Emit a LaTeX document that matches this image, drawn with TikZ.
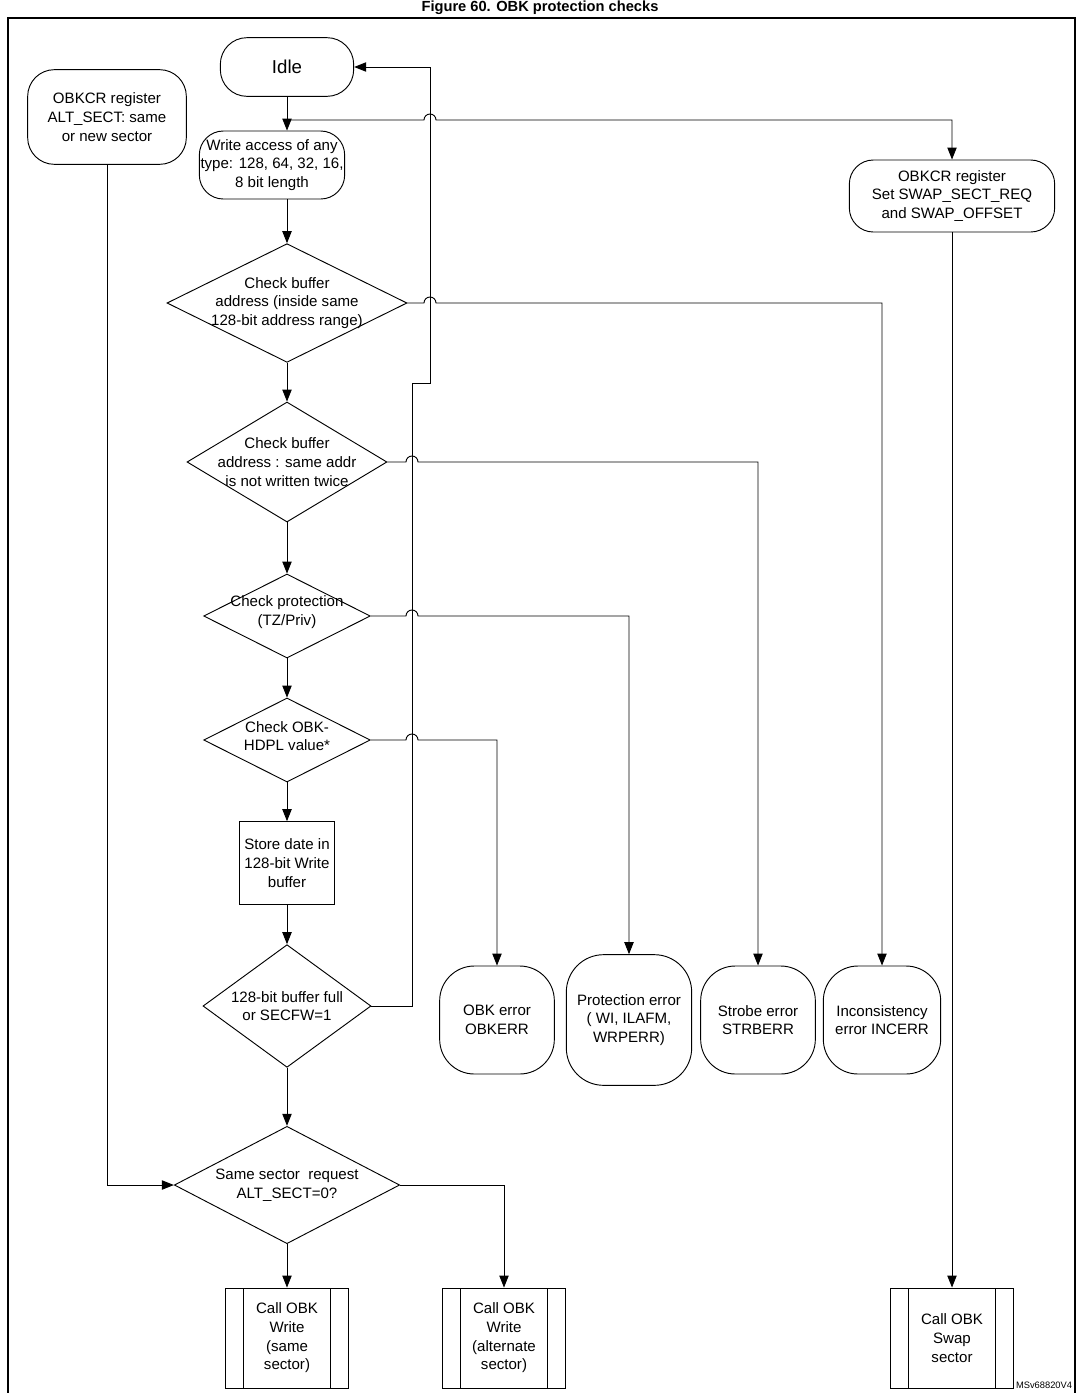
\documentclass[tikz,border=0pt]{standalone}
\usepackage{fontspec}
\setmainfont{Liberation Sans}
\usetikzlibrary{shapes.geometric,arrows.meta,calc}
\begin{document}
\begin{tikzpicture}[x=0.75pt,y=-0.75pt,
  font=\fontsize{11.3}{14}\selectfont,
  line width=0.7pt,
  arr/.style={-{Triangle[length=9pt,width=7pt]}},
  term/.style={draw,rounded corners=20pt,align=center,inner sep=1pt},
  dia/.style={draw,diamond,inner sep=0pt},
  box/.style={draw,align=center},
  sub/.style={draw,align=center,minimum width=92pt,minimum height=75pt,
     path picture={\draw ([xshift=13.5pt]path picture bounding box.north west) -- ([xshift=13.5pt]path picture bounding box.south west);
                   \draw ([xshift=-13.5pt]path picture bounding box.north east) -- ([xshift=-13.5pt]path picture bounding box.south east);}},
  lab/.style={align=center,font=\fontsize{11.3}{14}\selectfont}
]
\useasboundingbox (0,0) rectangle (1077,1393);
\node[font=\bfseries\fontsize{11}{13}\selectfont] (title) at (540,8) {Figure 60. OBK protection checks};
\draw[line width=1.2pt] (8,1400) -- (8,18) -- (1075,18) -- (1075,1400);

\node[term,minimum width=100pt,minimum height=44pt,font=\fontsize{14}{16}\selectfont] (idle) at (287,67) {Idle};
\node[term,minimum width=109pt,minimum height=51pt,rounded corners=18pt,inner sep=0pt] (wa) at (272,165) {Write access of any\\type: 128, 64, 32, 16,\\8 bit length};
\node[term,minimum width=119pt,minimum height=71pt] (ob1) at (107,117) {OBKCR register\\ALT\_SECT: same\\or new sector};
\node[term,minimum width=154pt,minimum height=54pt,rounded corners=18pt] (ob2) at (952,196) {OBKCR register\\Set SWAP\_SECT\_REQ\\and SWAP\_OFFSET};

\node[dia,minimum width=180pt,minimum height=89pt,label={[lab]center:Check buffer\\address (inside same\\128-bit address range)}] (d1) at (287,303) {};
\node[dia,minimum width=150pt,minimum height=90pt,label={[lab]center:Check buffer\\address : same addr\\is not written twice}] (d2) at (287,462) {};
\node[dia,minimum width=125pt,minimum height=63pt,label={[lab,yshift=3pt]center:Check protection\\(TZ/Priv)}] (d3) at (287,616) {};
\node[dia,minimum width=125pt,minimum height=63pt,label={[lab,yshift=3pt]center:Check OBK-\\HDPL value*}] (d4) at (287,740) {};
\node[box,minimum width=68pt,minimum height=62pt] (st) at (287,863) {Store date in\\128-bit Write\\buffer};
\node[dia,minimum width=126pt,minimum height=92pt,label={[lab]center:128-bit buffer full\\or SECFW=1}] (d5) at (287,1006) {};
\node[dia,minimum width=169pt,minimum height=88pt,label={[lab]center:Same sector \ request\\ALT\_SECT=0?}] (d6) at (287,1185) {};

\node[term,minimum width=86pt,minimum height=81pt,rounded corners=26pt] (e1) at (497,1020) {OBK error\\OBKERR};
\node[term,minimum width=94pt,minimum height=98pt,rounded corners=28pt] (e2) at (629,1020) {Protection error\\( WI, ILAFM,\\WRPERR)};
\node[term,minimum width=86pt,minimum height=81pt,rounded corners=26pt] (e3) at (758,1020) {Strobe error\\STRBERR};
\node[term,minimum width=88pt,minimum height=81pt,rounded corners=26pt] (e4) at (882,1020) {Inconsistency\\error INCERR};

\node[sub] (c1) at (287,1338) {Call OBK\\Write\\(same\\sector)};
\node[sub] (c2) at (504,1338) {Call OBK\\Write\\(alternate\\sector)};
\node[sub] (c3) at (952,1338) {Call OBK\\Swap\\sector};

\node[font=\fontsize{7}{8}\selectfont,anchor=south east] (ref) at (1077,1393) {MSv68820V4};

% main chain
\draw[arr] (idle) -- (wa.north -| idle);
\draw[arr] (wa.south -| idle) -- (d1.north);
\draw[arr] (d1) -- (d2);
\draw[arr] (d2) -- (d3);
\draw[arr] (d3) -- (d4);
\draw[arr] (d4) -- (st);
\draw[arr] (st) -- (d5);
\draw[arr] (d5) -- (d6);
\draw[arr] (d6) -- (c1);
% branch to swap request
\draw[arr] (287,120) -- (424,120) arc[start angle=180,end angle=360,radius=6] -- (952,120) -- (ob2.north);
\draw[arr] (ob2) -- (c3);
% feedback loop
\draw[arr] (d5.east) -- (412,1006) -- (412,383) -- (430,383) -- (430,67) -- (idle.east);
% error branches
\draw[arr] (d1.east) -- (424,303) arc[start angle=180,end angle=360,radius=6] -- (882,303) -- (e4.north);
\draw[arr] (d2.east) -- (406,462) arc[start angle=180,end angle=360,radius=6] -- (758,462) -- (e3.north);
\draw[arr] (d3.east) -- (406,616) arc[start angle=180,end angle=360,radius=6] -- (629,616) -- (e2.north);
\draw[arr] (d4.east) -- (406,740) arc[start angle=180,end angle=360,radius=6] -- (497,740) -- (e1.north);
% alt sect
\draw[arr] (ob1) -- (107,1185) -- (d6.west);
\draw[arr] (d6.east) -- (504,1185) -- (c2.north);
\end{tikzpicture}
\end{document}
